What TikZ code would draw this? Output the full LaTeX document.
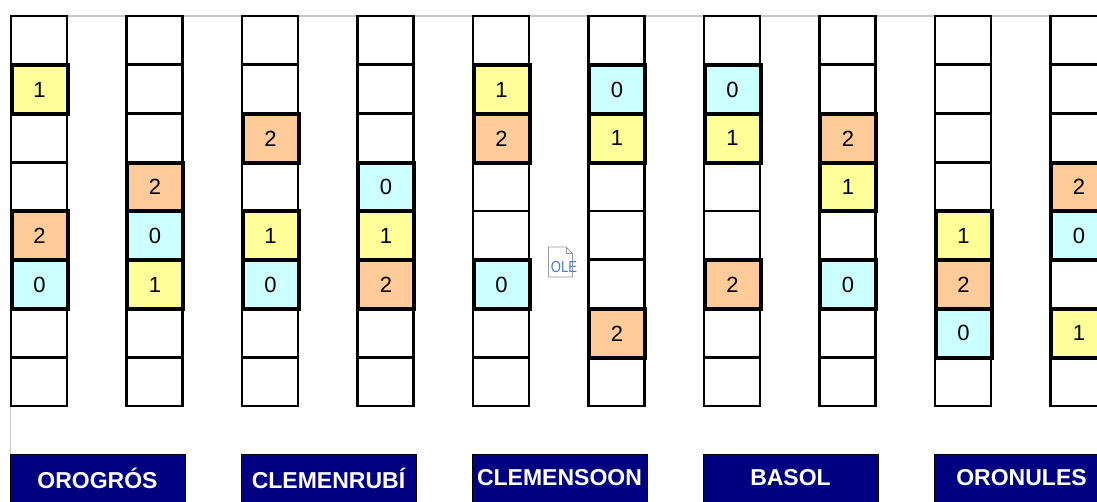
\documentclass[tikz,border=0pt]{standalone}
\usepackage{fontspec}
\setmainfont{Liberation Sans}
\definecolor{cy}{HTML}{CCFFFF}
\definecolor{yl}{HTML}{FFFF99}
\definecolor{og}{HTML}{FFCC99}
\definecolor{navy}{HTML}{000080}
\definecolor{olebl}{HTML}{4A7EC8}
\begin{document}
\begin{tikzpicture}[x=1pt,y=-1pt,
  cell/.style={draw=black, line width=2.6pt, minimum width=56pt, minimum height=48.75pt, inner sep=0pt, font=\fontsize{22}{22}\selectfont},
  fcell/.style={cell, line width=4pt},
  labbox/.style={draw=black, line width=1pt, fill=navy},
  labtext/.style={text=white, font=\bfseries\fontsize{23}{23}\selectfont, inner sep=0pt},
  frame/.style={draw=black!22, line width=1.2pt}]
\useasboundingbox (0,0) rectangle (1097,502);
\clip (0,0) rectangle (1097,502);
\fill[white] (0,0) rectangle (1097,502);
\draw[frame] (1097,16) -- (10.5,16) -- (10.5,470);
% empty cells
\foreach \k in {0,...,9}{
  \foreach \r in {1,...,8}{
    \node[cell] (c\k-\r) at ({39+115.5*\k},{16+48.75*(\r-0.5)}) {};
  }
}
% filled cells
\foreach \k/\r/\v/\c in {
  0/2/1/yl, 0/5/2/og, 0/6/0/cy,
  1/4/2/og, 1/5/0/cy, 1/6/1/yl,
  2/3/2/og, 2/5/1/yl, 2/6/0/cy,
  3/4/0/cy, 3/5/1/yl, 3/6/2/og,
  4/2/1/yl, 4/3/2/og, 4/6/0/cy,
  5/2/0/cy, 5/3/1/yl, 5/7/2/og,
  6/2/0/cy, 6/3/1/yl, 6/6/2/og,
  7/3/2/og, 7/4/1/yl, 7/6/0/cy,
  8/5/1/yl, 8/6/2/og, 8/7/0/cy,
  9/4/2/og, 9/5/0/cy, 9/7/1/yl}{
  \node[fcell, fill=\c] (f\k-\r) at ({39.5+115.5*\k},{16.5+48.75*(\r-0.5)}) {\v};
}
% labels
\foreach \k/\t in {0/OROGRÓS, 1/CLEMENRUBÍ, 2/CLEMENSOON, 3/BASOL, 4/ORONULES}{
  \draw[labbox] ({10+231*\k},454) rectangle ++(175,60);
  \node[labtext] (lab\k) at ({97.5+231*\k},478) {\t};
}
% OLE icon
\draw[black!40, line width=0.8pt, fill=white] (548.5,247) -- (566,247) -- (572.5,253.5) -- (572.5,277) -- (548.5,277) -- cycle;
\draw[black!40, line width=0.8pt] (566,247) -- (566,253.5) -- (572.5,253.5);
\node[text=olebl, font=\fontsize{16}{16}\selectfont, inner sep=0pt] (ole) at (564,267) {\scalebox{0.82}[1]{OLE}};
\end{tikzpicture}
\end{document}
